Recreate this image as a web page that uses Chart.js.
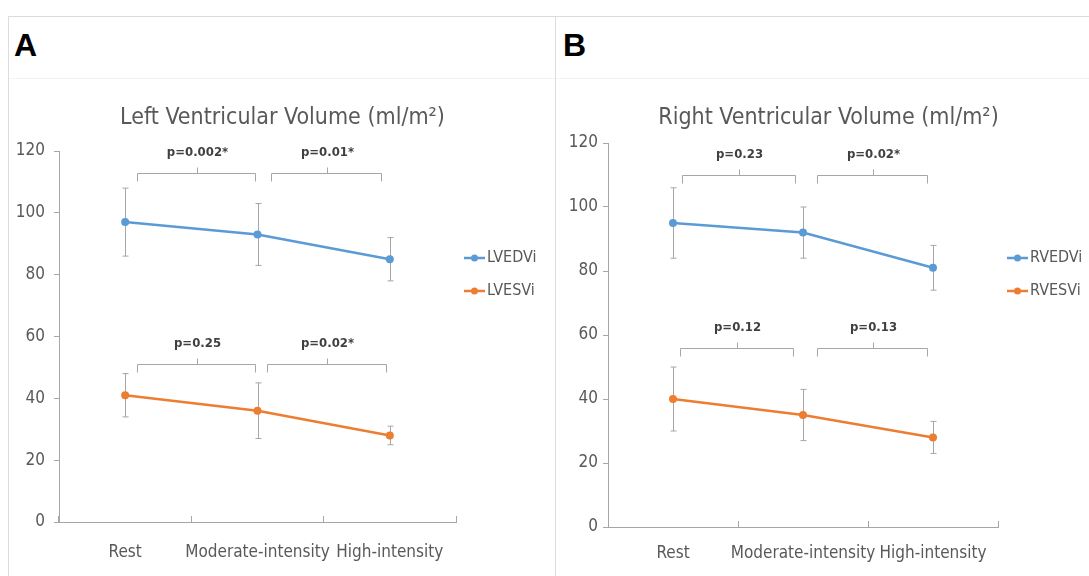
<!DOCTYPE html>
<html>
<head>
<meta charset="utf-8">
<script src="https://cdn.jsdelivr.net/npm/chart.js@4.4.0/dist/chart.umd.min.js"></script>
<style>
body { margin: 0; background: #fff; width: 1089px; height: 576px; overflow: hidden; position: relative; }
.frame { position: absolute; left: 8px; top: 16px; width: 1090px; height: 570px; border-top: 1px solid #dcdcdc; border-left: 1px solid #dcdcdc; }
.divider { position: absolute; left: 555px; top: 16px; width: 1px; height: 570px; background: #dcdcdc; }
.band { position: absolute; top: 78px; height: 1px; background: #f3f3f3; }
.tag { position: absolute; top: 27px; font-family: 'Liberation Sans', Arial, sans-serif; font-weight: bold; font-size: 32px; color: #000; }
canvas { position: absolute; }
</style>
</head>
<body>
<div class="frame"></div>
<div class="divider"></div>
<div class="band" style="left:9px;width:546px"></div>
<div class="band" style="left:556px;width:533px"></div>
<div class="tag" style="left:14px">A</div>
<div class="tag" style="left:563px">B</div>
<canvas id="chartA" width="545" height="496" style="left:9px;top:80px"></canvas>
<canvas id="chartB" width="533" height="496" style="left:556px;top:80px"></canvas>
<script>
const categories = ['Rest', 'Moderate-intensity', 'High-intensity'];
const yTickValues = [0, 20, 40, 60, 80, 100, 120];

// left ventricle (mean, lower and upper end of error bar)
const lvedvi = [97, 93, 85];
const lvedviLow = [86, 83, 78];
const lvedviHigh = [108, 103, 92];
const lvesvi = [41, 36, 28];
const lvesviLow = [34, 27, 25];
const lvesviHigh = [48, 45, 31];

// right ventricle
const rvedvi = [95, 92, 81];
const rvedviLow = [84, 84, 74];
const rvedviHigh = [106, 100, 88];
const rvesvi = [40, 35, 28];
const rvesviLow = [30, 27, 23];
const rvesviHigh = [50, 43, 33];

// p values over the brackets: [rest vs moderate, moderate vs high]
const lvTopP = ['p=0.002*', 'p=0.01*'];
const lvBottomP = ['p=0.25', 'p=0.02*'];
const rvTopP = ['p=0.23', 'p=0.02*'];
const rvBottomP = ['p=0.12', 'p=0.13'];

const FONT = "'Liberation Sans Narrow', 'DejaVu Sans Condensed', 'Open Sans', sans-serif";
const AXIS = '#a6a6a6';
const TEXT = '#595959';
const BLUE = '#5b9bd5';
const ORANGE = '#ed7d31';

const extrasPlugin = {
    id: 'extras',
    beforeDatasetsDraw(chart) {
        const ctx = chart.ctx;
        const xs = chart.scales.x, ys = chart.scales.y;
        ctx.save();
        ctx.strokeStyle = AXIS;
        ctx.lineWidth = 1;
        chart.data.datasets.forEach(ds => {
            ds.errLow.forEach((lo, i) => {
                const px = Math.round(xs.getPixelForValue(i)) + 0.5;
                const y1 = ys.getPixelForValue(lo);
                const y2 = ys.getPixelForValue(ds.errHigh[i]);
                ctx.beginPath();
                ctx.moveTo(px, y1); ctx.lineTo(px, y2);
                ctx.moveTo(px - 3, y1); ctx.lineTo(px + 3, y1);
                ctx.moveTo(px - 3, y2); ctx.lineTo(px + 3, y2);
                ctx.stroke();
            });
        });
        ctx.restore();
    },
    afterDatasetsDraw(chart, args, opts) {
        const ctx = chart.ctx;
        const xs = chart.scales.x, ys = chart.scales.y;
        ctx.save();
        // brackets with p values
        opts.brackets.forEach(b => {
            const x1 = Math.round(xs.getPixelForValue(b.from)) + 0.5;
            const x2 = Math.round(xs.getPixelForValue(b.to)) + 0.5;
            const yy = Math.round(ys.getPixelForValue(b.y)) + 0.5;
            const xm = Math.round((x1 + x2) / 2) + 0.5;
            ctx.strokeStyle = AXIS;
            ctx.lineWidth = 1;
            ctx.beginPath();
            ctx.moveTo(x1, yy + 8); ctx.lineTo(x1, yy); ctx.lineTo(x2, yy); ctx.lineTo(x2, yy + 8);
            ctx.moveTo(xm, yy); ctx.lineTo(xm, yy - 6);
            ctx.stroke();
            ctx.fillStyle = '#404040';
            ctx.font = 'bold 13px ' + FONT;
            ctx.textAlign = 'center';
            ctx.textBaseline = 'middle';
            ctx.fillText(b.label, xm, yy - 21);
        });
        ctx.restore();
    },
    afterDraw(chart, args, opts) {
        const ctx = chart.ctx;
        ctx.save();
        // title, centred over the whole panel
        ctx.fillStyle = TEXT;
        ctx.font = '23px ' + FONT;
        ctx.textAlign = 'center';
        ctx.textBaseline = 'alphabetic';
        ctx.fillText(opts.title, chart.width / 2 + opts.titleShift, 44);
        // legend to the right of the plot
        const x0 = chart.chartArea.right + opts.legendX;
        chart.data.datasets.forEach((ds, i) => {
            const yy = opts.legendY + i * 33;
            ctx.strokeStyle = ds.borderColor;
            ctx.lineWidth = 2.5;
            ctx.beginPath();
            ctx.moveTo(x0, yy); ctx.lineTo(x0 + 21, yy);
            ctx.stroke();
            ctx.fillStyle = ds.borderColor;
            ctx.beginPath();
            ctx.arc(x0 + 10.5, yy, 3.5, 0, Math.PI * 2);
            ctx.fill();
            ctx.fillStyle = TEXT;
            ctx.font = '16px ' + FONT;
            ctx.textAlign = 'left';
            ctx.textBaseline = 'middle';
            ctx.fillText(ds.label, x0 + 23, yy);
        });
        ctx.restore();
    }
};

function series(label, data, low, high, color) {
    return {
        label: label,
        data: data,
        errLow: low,
        errHigh: high,
        borderColor: color,
        backgroundColor: color,
        borderWidth: 2.5,
        pointRadius: 4,
        pointBorderWidth: 0,
        pointBackgroundColor: color,
        tension: 0
    };
}

function makeChart(id, title, datasets, brackets, lay) {
    return new Chart(document.getElementById(id), {
        type: 'line',
        data: { labels: categories, datasets: datasets },
        plugins: [extrasPlugin],
        options: {
            responsive: false,
            animation: false,
            devicePixelRatio: 1,
            layout: { padding: { left: 0, right: lay.padRight, top: lay.padTop, bottom: 0 } },
            plugins: {
                legend: { display: false },
                tooltip: { enabled: false },
                title: { display: false },
                extras: { title: title, titleShift: lay.titleShift, brackets: brackets, legendX: lay.legendX, legendY: 178 }
            },
            scales: {
                x: {
                    offset: true,
                    grid: { display: true, drawOnChartArea: false, offset: true, tickLength: -6, color: AXIS },
                    border: { color: AXIS },
                    ticks: { color: TEXT, font: { family: FONT, size: 17 }, padding: lay.xPad, maxRotation: 0, autoSkip: false },
                    afterFit: s => { s.height = lay.xHeight; }
                },
                y: {
                    min: yTickValues[0],
                    max: yTickValues[yTickValues.length - 1],
                    ticks: { stepSize: yTickValues[1] - yTickValues[0], color: TEXT, font: { family: FONT, size: 17 }, padding: lay.yPad },
                    grid: { drawOnChartArea: false, tickLength: 5, color: AXIS },
                    border: { color: AXIS },
                    afterFit: s => { s.width = lay.yWidth; }
                }
            }
        }
    });
}

makeChart('chartA', 'Left Ventricular Volume (ml/m\u00b2)', [
    series('LVEDVi', lvedvi, lvedviLow, lvedviHigh, BLUE),
    series('LVESVi', lvesvi, lvesviLow, lvesviHigh, ORANGE)
], [
    { from: 0.09, to: 0.98, y: 113, label: lvTopP[0] },
    { from: 1.10, to: 1.93, y: 113, label: lvTopP[1] },
    { from: 0.09, to: 0.98, y: 51, label: lvBottomP[0] },
    { from: 1.07, to: 1.97, y: 51, label: lvBottomP[1] }
], { padRight: 98, padTop: 71, titleShift: 1, xHeight: 54, xPad: 26, yWidth: 50, yPad: 9, legendX: 8 });

makeChart('chartB', 'Right Ventricular Volume (ml/m\u00b2)', [
    series('RVEDVi', rvedvi, rvedviLow, rvedviHigh, BLUE),
    series('RVESVi', rvesvi, rvesviLow, rvesviHigh, ORANGE)
], [
    { from: 0.07, to: 0.94, y: 110, label: rvTopP[0] },
    { from: 1.11, to: 1.95, y: 110, label: rvTopP[1] },
    { from: 0.05, to: 0.92, y: 56, label: rvBottomP[0] },
    { from: 1.11, to: 1.95, y: 56, label: rvBottomP[1] }
], { padRight: 91, padTop: 63, titleShift: 6, xHeight: 49, xPad: 22, yWidth: 52, yPad: 5, legendX: 9 });
</script>
</body>
</html>
